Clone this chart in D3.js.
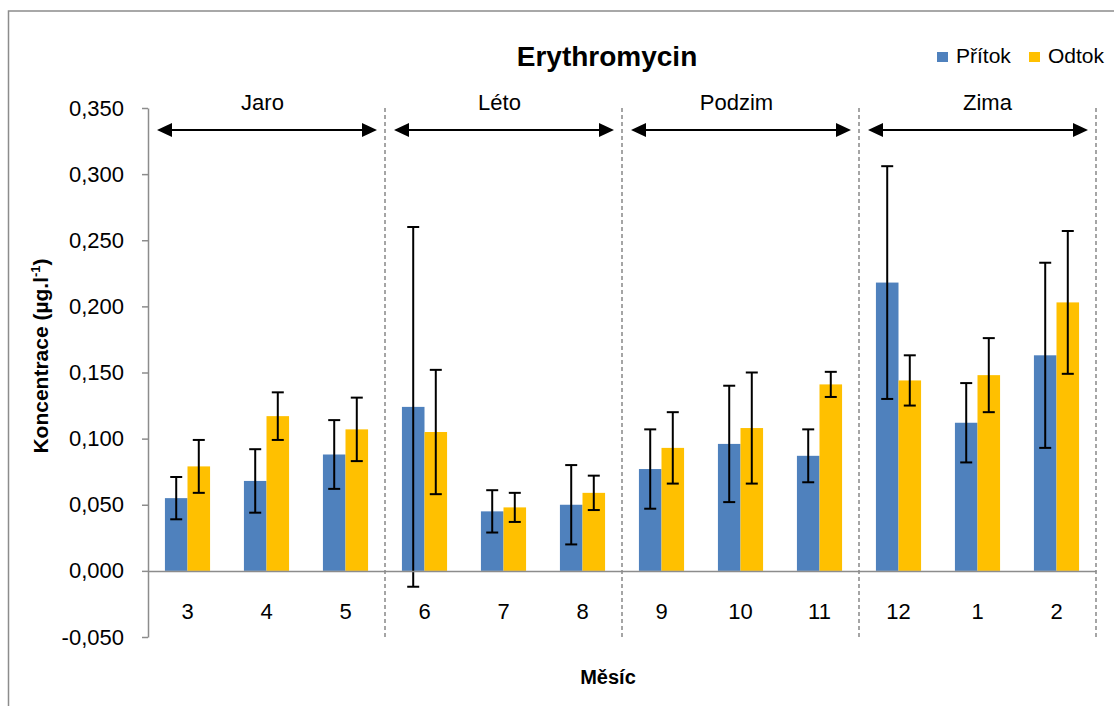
<!DOCTYPE html>
<html>
<head>
<meta charset="utf-8">
<script src="https://cdn.jsdelivr.net/npm/d3@7/dist/d3.min.js"></script>
<style>
  html, body { margin: 0; padding: 0; background: #fff; }
  svg { display: block; font-family: "Liberation Sans", Arial, sans-serif; }
</style>
</head>
<body>
<svg id="chart" width="1114" height="706"></svg>
<script>
// Erythromycin concentration by month, inflow vs outflow (mean ± error)
const months = ["3", "4", "5", "6", "7", "8", "9", "10", "11", "12", "1", "2"];
const seriesNames = ["Přítok", "Odtok"];
const seasons = ["Jaro", "Léto", "Podzim", "Zima"];
const pritok = [0.055, 0.068, 0.088, 0.124, 0.045, 0.050, 0.077, 0.096, 0.087, 0.218, 0.112, 0.163];
const pritokErr = [0.016, 0.024, 0.026, 0.136, 0.016, 0.030, 0.030, 0.044, 0.020, 0.088, 0.030, 0.070];
const odtok = [0.079, 0.117, 0.107, 0.105, 0.048, 0.059, 0.093, 0.108, 0.141, 0.144, 0.148, 0.203];
const odtokErr = [0.020, 0.018, 0.024, 0.047, 0.011, 0.013, 0.027, 0.042, 0.0095, 0.019, 0.028, 0.054];
const yTicks = [-0.05, 0, 0.05, 0.10, 0.15, 0.20, 0.25, 0.30, 0.35];

const colors = { "Přítok": "#4f81bd", "Odtok": "#ffc000" };
const axisGray = "#8c8c8c";

const svg = d3.select("#chart");

// outer chart frame
svg.append("rect")
  .attr("x", 8.5).attr("y", 11).attr("width", 1300).attr("height", 900)
  .attr("fill", "none").attr("stroke", axisGray).attr("stroke-width", 1.5);

const plot = { left: 148, right: 1096, top: 108, bottom: 637 };

const x0 = d3.scaleBand().domain(months).range([plot.left, plot.right]).paddingInner(0).paddingOuter(0);
const x1 = d3.scaleBand().domain(seriesNames).range([0, x0.bandwidth()]).paddingInner(0).paddingOuter(0.75);
const y = d3.scaleLinear().domain([-0.05, 0.35]).range([plot.bottom, plot.top]);

const locale = d3.formatLocale({ decimal: ",", thousands: " ", grouping: [3], currency: ["", ""], minus: "-" });
const fmt = locale.format(".3f");

// season separators (dashed)
const perSeason = months.length / seasons.length;
const seasonEdges = d3.range(1, seasons.length + 1).map(i => plot.left + i * perSeason * x0.step());
svg.append("g").selectAll("line").data(seasonEdges).join("line")
  .attr("x1", d => d).attr("x2", d => d)
  .attr("y1", plot.top).attr("y2", plot.bottom)
  .attr("stroke", "#888").attr("stroke-width", 1.5).attr("stroke-dasharray", "4,3");

// y axis
const yAxis = svg.append("g")
  .attr("transform", `translate(${plot.left},0)`)
  .call(d3.axisLeft(y).tickValues(yTicks).tickFormat(fmt).tickSize(6).tickSizeOuter(0).tickPadding(18));
yAxis.select(".domain").attr("stroke", axisGray).attr("stroke-width", 1.5);
yAxis.selectAll(".tick line").attr("stroke", axisGray).attr("stroke-width", 1.5);
yAxis.selectAll(".tick text").attr("font-size", 22).attr("fill", "#000")
  .attr("font-family", "Liberation Sans, Arial, sans-serif");

// bars
const rows = months.map((m, i) => ({
  month: m,
  values: [
    { key: "Přítok", v: pritok[i], e: pritokErr[i] },
    { key: "Odtok", v: odtok[i], e: odtokErr[i] }
  ]
}));

const groups = svg.append("g").selectAll("g").data(rows).join("g")
  .attr("transform", d => `translate(${x0(d.month)},0)`);

groups.selectAll("rect").data(d => d.values).join("rect")
  .attr("x", d => x1(d.key))
  .attr("width", x1.bandwidth())
  .attr("y", d => y(Math.max(0, d.v)))
  .attr("height", d => Math.abs(y(d.v) - y(0)))
  .attr("fill", d => colors[d.key]);

// x axis line at zero
const xAxis = svg.append("g")
  .attr("transform", `translate(0,${y(0)})`)
  .call(d3.axisBottom(x0).tickSize(0).tickPadding(33));
xAxis.select(".domain").attr("stroke", axisGray).attr("stroke-width", 1.5);
xAxis.selectAll(".tick text").attr("font-size", 22).attr("fill", "#000")
  .attr("font-family", "Liberation Sans, Arial, sans-serif");

// error bars
const cap = 6;
const eb = groups.selectAll("g.err").data(d => d.values).join("g").attr("class", "err")
  .attr("stroke", "#000").attr("stroke-width", 2);
eb.append("line")
  .attr("x1", d => x1(d.key) + x1.bandwidth() / 2).attr("x2", d => x1(d.key) + x1.bandwidth() / 2)
  .attr("y1", d => y(d.v + d.e)).attr("y2", d => y(d.v - d.e));
eb.append("line")
  .attr("x1", d => x1(d.key) + x1.bandwidth() / 2 - cap).attr("x2", d => x1(d.key) + x1.bandwidth() / 2 + cap)
  .attr("y1", d => y(d.v + d.e)).attr("y2", d => y(d.v + d.e));
eb.append("line")
  .attr("x1", d => x1(d.key) + x1.bandwidth() / 2 - cap).attr("x2", d => x1(d.key) + x1.bandwidth() / 2 + cap)
  .attr("y1", d => y(d.v - d.e)).attr("y2", d => y(d.v - d.e));

// season arrows and labels
const arrowY = 130, headLen = 15, headHalf = 7;
const labelShift = [-4.5, -4.5, -4.5, 9.5];
seasons.forEach((s, i) => {
  const a = plot.left + i * perSeason * x0.step() + 9;
  const b = plot.left + (i + 1) * perSeason * x0.step() - 8;
  const g = svg.append("g");
  g.append("line").attr("x1", a + headLen - 2).attr("x2", b - headLen + 2)
    .attr("y1", arrowY).attr("y2", arrowY).attr("stroke", "#000").attr("stroke-width", 2.2);
  g.append("path").attr("d", `M${a},${arrowY}L${a + headLen},${arrowY - headHalf}L${a + headLen},${arrowY + headHalf}Z`).attr("fill", "#000");
  g.append("path").attr("d", `M${b},${arrowY}L${b - headLen},${arrowY - headHalf}L${b - headLen},${arrowY + headHalf}Z`).attr("fill", "#000");
  g.append("text").attr("x", (a + b) / 2 + labelShift[i]).attr("y", 110)
    .attr("text-anchor", "middle").attr("font-size", 22).text(s);
});

// title
svg.append("text").attr("x", 607).attr("y", 66).attr("text-anchor", "middle")
  .attr("font-size", 28).attr("font-weight", "bold").text("Erythromycin");

// legend
const legendPos = [937, 1029];
seriesNames.forEach((n, i) => {
  svg.append("rect").attr("x", legendPos[i]).attr("y", 52).attr("width", 11).attr("height", 10).attr("fill", colors[n]);
  svg.append("text").attr("x", legendPos[i] + 19).attr("y", 63).attr("font-size", 21).text(n);
});

// axis titles
const yTitle = svg.append("text")
  .attr("transform", "translate(48,356) rotate(-90)")
  .attr("text-anchor", "middle").attr("font-size", 21).attr("font-weight", "bold");
yTitle.append("tspan").text("Koncentrace (µg.l");
yTitle.append("tspan").attr("font-size", 13).attr("dy", -8).text("-1");
yTitle.append("tspan").attr("dy", 8).text(")");

svg.append("text").attr("x", 608).attr("y", 684).attr("text-anchor", "middle")
  .attr("font-size", 20).attr("font-weight", "bold").text("Měsíc");
</script>
</body>
</html>
